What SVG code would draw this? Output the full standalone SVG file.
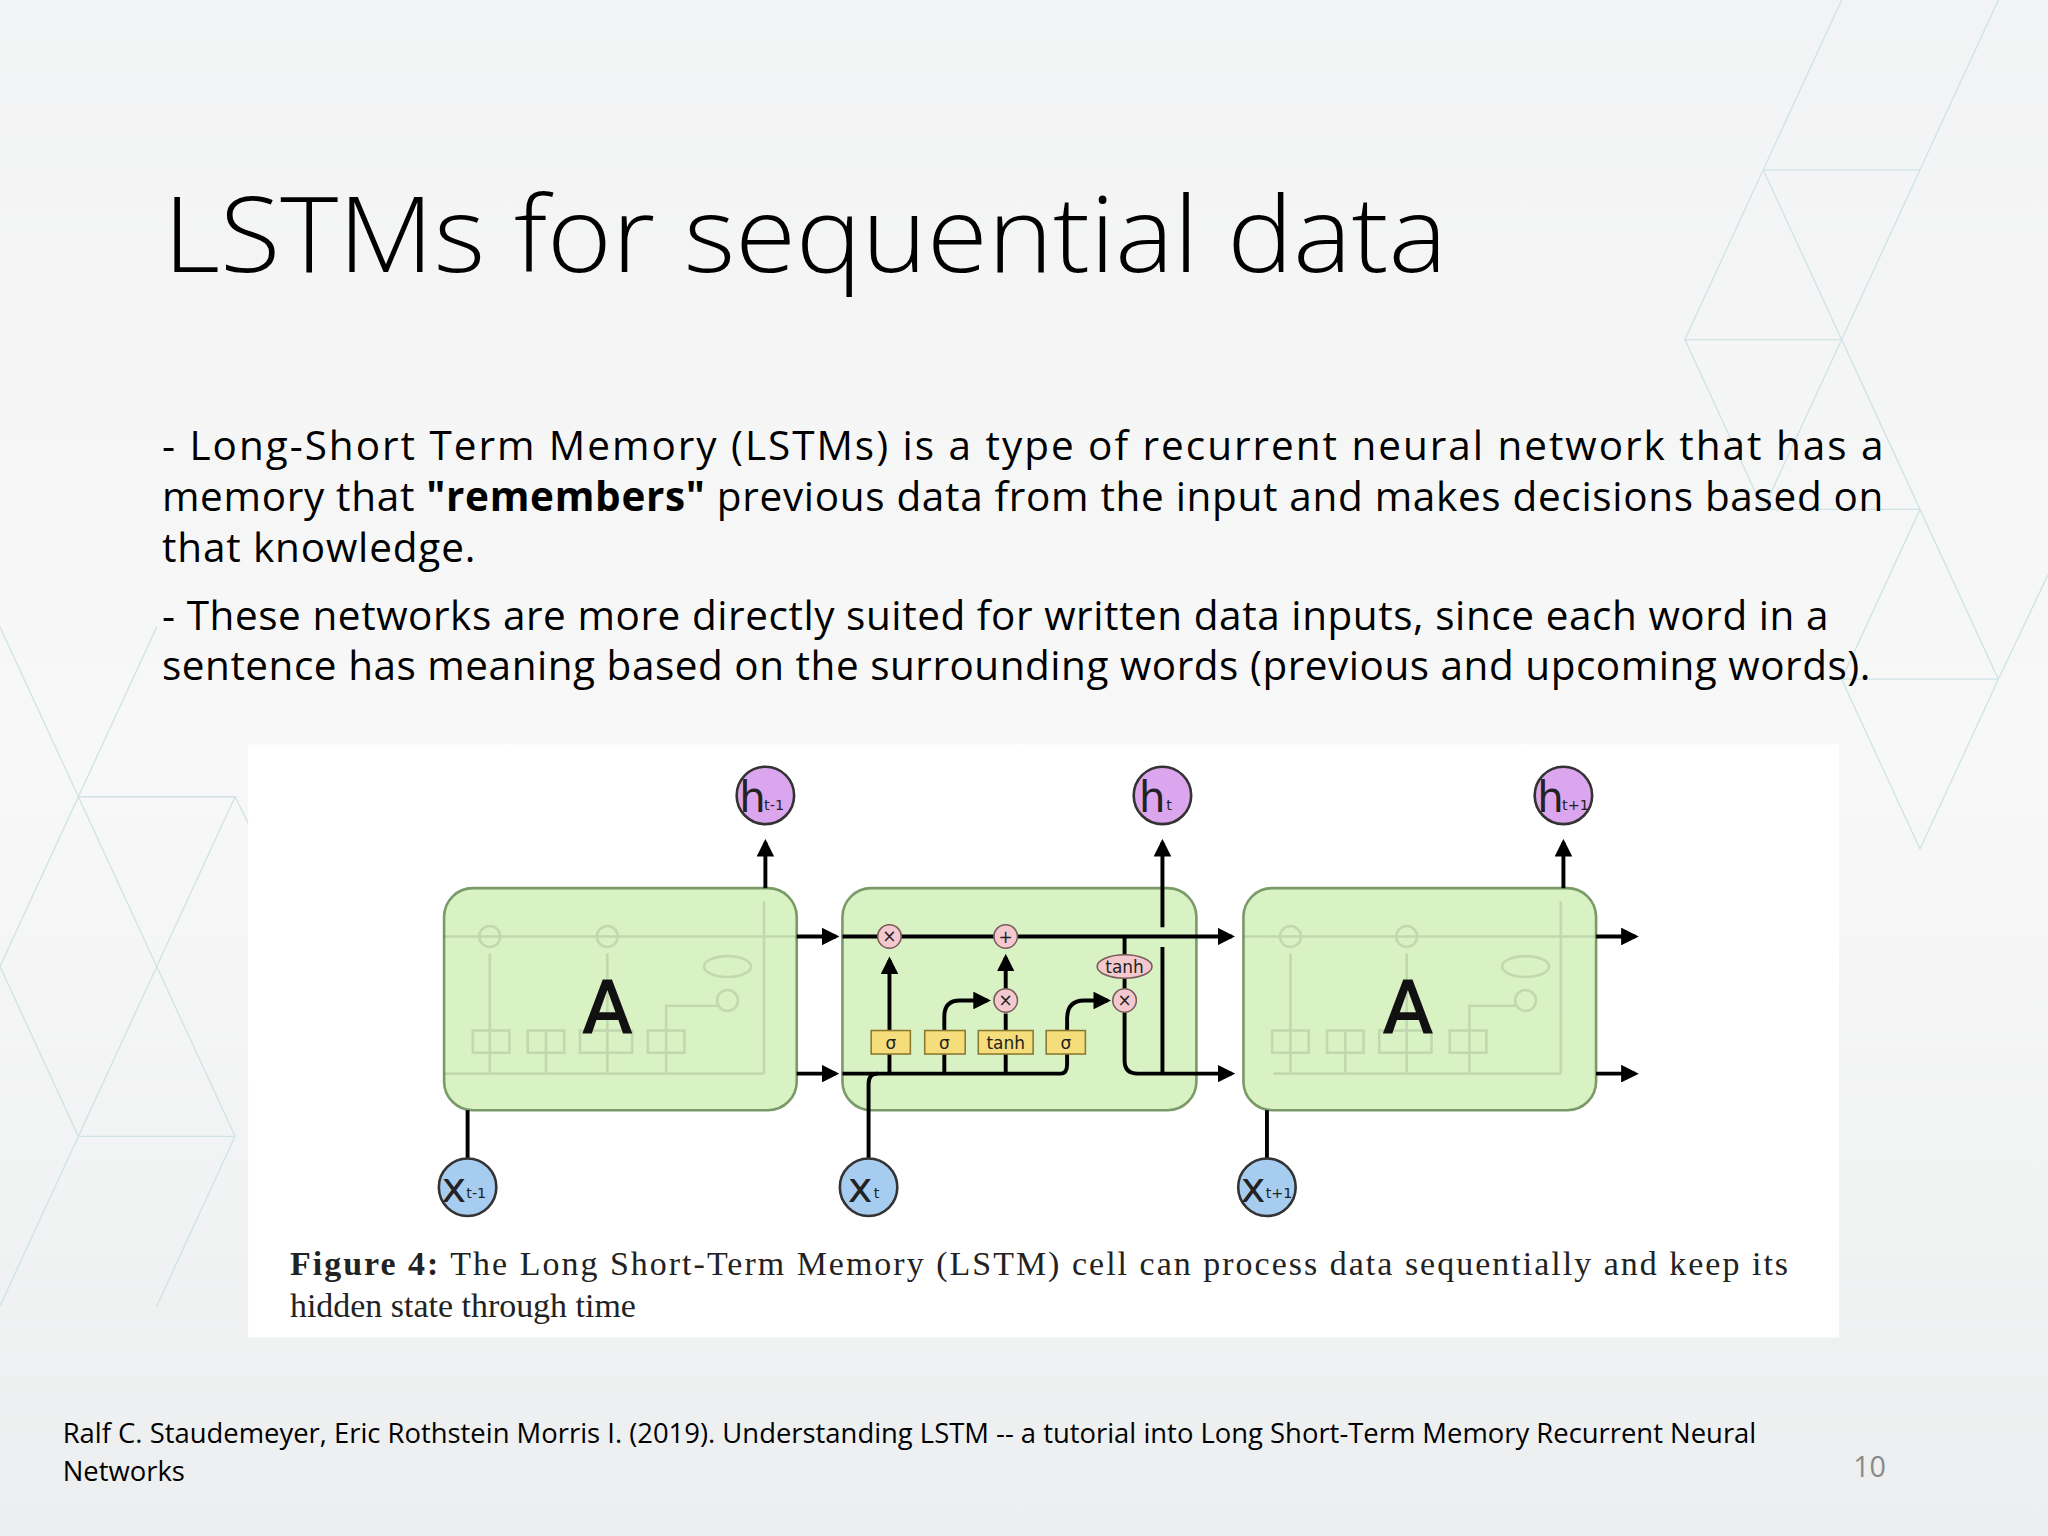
<svg xmlns="http://www.w3.org/2000/svg" width="2048" height="1536" viewBox="0 0 2048 1536">
<defs>
<linearGradient id="bg" x1="0" y1="0" x2="0" y2="1"><stop offset="0" stop-color="#f2f3f4"/><stop offset="0.5" stop-color="#f8f8f8"/><stop offset="1" stop-color="#eceeef"/></linearGradient>
<marker id="ar" viewBox="0 0 10 10" refX="8" refY="5" markerWidth="4.5" markerHeight="4.5" orient="auto"><path d="M0,0 L10,5 L0,10 z" fill="#000"/></marker>
<style>
.t{font-family:"Open Sans","Liberation Sans",sans-serif;fill:#000}
.ln{stroke:#000;stroke-width:3;fill:none}
.cell{fill:#d9f2c4;stroke:#7a9a68;stroke-width:2}
.op{fill:#f3c9cf;stroke:#7a5a5a;stroke-width:1.2}
.gate{fill:#f4dd7a;stroke:#8a7a30;stroke-width:1.2}
.ot{font-family:"DejaVu Sans",sans-serif;font-size:13px;text-anchor:middle;fill:#222}
.hc{fill:#dba6ee;stroke:#333;stroke-width:2}
.xc{fill:#a6cdef;stroke:#333;stroke-width:2}
.big{font-family:"DejaVu Sans",sans-serif;font-size:32px;fill:#222}
.sub{font-family:"DejaVu Sans",sans-serif;font-size:11px;fill:#222}
.tri{stroke:#cfe3e6;stroke-width:1;fill:none}
</style>
</defs>
<rect width="2048" height="1536" fill="url(#bg)"/>
<g transform="scale(1.30612)">
<g id="background">
<path class="tri" d="M1290,260 L1350,130 L1410,260 Z M1350,130 L1470,130 L1410,260 M1410,0 L1350,130 M1470,130 L1530,0 M1290,260 L1350,390 L1410,260 M1470,390 L1410,260 M1350,390 L1470,390 M1470,390 L1530,520 L1568,440 M1530,520 L1410,520 L1470,390 M1410,520 L1470,650 L1530,520"/>
<path class="tri" d="M0,480 L60,610 L0,740 M60,610 L120,480 M60,610 L180,610 L120,740 L60,610 M120,740 L180,870 L120,1000 M0,740 L60,870 L120,740 M60,870 L0,1000 M60,870 L180,870 M180,610 L190,630"/>
</g>
<g id="title"><text class="t" x="125" y="208" font-size="80" font-weight="300" textLength="983" lengthAdjust="spacingAndGlyphs">LSTMs for sequential data</text></g>
<g id="body" class="t" font-size="31">
<text x="124" y="352" textLength="1318" lengthAdjust="spacing">- Long-Short Term Memory (LSTMs) is a type of recurrent neural network that has a</text>
<text x="124" y="391" textLength="1318" lengthAdjust="spacing">memory that <tspan font-weight="bold">"remembers"</tspan> previous data from the input and makes decisions based on</text>
<text x="124" y="430" textLength="240" lengthAdjust="spacing">that knowledge.</text>
<text x="124" y="482" textLength="1276" lengthAdjust="spacing">- These networks are more directly suited for written data inputs, since each word in a</text>
<text x="124" y="521" textLength="1308" lengthAdjust="spacing">sentence has meaning based on the surrounding words (previous and upcoming words).</text>
</g>
<g id="figure">
<rect x="190" y="570" width="1218" height="454" fill="#fff"/>
<g id="cell-left">
<rect class="cell" x="340" y="680" width="270" height="170" rx="22"/>
<g opacity="0.1" stroke="#000" stroke-width="2" fill="none">
<path d="M340,717 L610,717 M340,822 L585,822 M375,822 L375,730 M465,822 L465,730 M585,822 L585,690 M418,822 L418,790 M510,822 L510,770 L550,770"/>
<circle cx="375" cy="717" r="8"/><circle cx="465" cy="717" r="8"/><circle cx="557" cy="766" r="8"/>
<rect x="362" y="789" width="28" height="17"/><rect x="404" y="789" width="28" height="17"/><rect x="444" y="789" width="40" height="17"/><rect x="496" y="789" width="28" height="17"/><ellipse cx="557" cy="740" rx="18" ry="8"/>
</g>
<text x="465" y="790" text-anchor="middle" font-family="DejaVu Sans,sans-serif" font-size="54" fill="#111" stroke="#111" stroke-width="1.5">A</text>
</g>
<g id="cell-mid">
<rect class="cell" x="645" y="680" width="271" height="170" rx="22"/>
</g>
<g id="cell-right">
<rect class="cell" x="952" y="680" width="270" height="170" rx="22"/>
<g opacity="0.1" stroke="#000" stroke-width="2" fill="none">
<path d="M952,717 L1222,717 M975,822 L1195,822 M988,822 L988,730 M1077,822 L1077,730 M1195,822 L1195,690 M1030,822 L1030,790 M1125,822 L1125,770 L1160,770"/>
<circle cx="988" cy="717" r="8"/><circle cx="1077" cy="717" r="8"/><circle cx="1168" cy="766" r="8"/>
<rect x="974" y="789" width="28" height="17"/><rect x="1016" y="789" width="28" height="17"/><rect x="1056" y="789" width="40" height="17"/><rect x="1110" y="789" width="28" height="17"/><ellipse cx="1168" cy="740" rx="18" ry="8"/>
</g>
<text x="1078" y="790" text-anchor="middle" font-family="DejaVu Sans,sans-serif" font-size="54" fill="#111" stroke="#111" stroke-width="1.5">A</text>
</g>
<g id="connectors">
<path class="ln" d="M610,717 L640,717" marker-end="url(#ar)"/>
<path class="ln" d="M610,822 L640,822" marker-end="url(#ar)"/>
<path class="ln" d="M645,717 L943,717" marker-end="url(#ar)"/>
<path class="ln" d="M645,822 L812,822 Q817,822 817,815 L817,780 Q817,766 830,766 L848,766" marker-end="url(#ar)"/>
<path class="ln" d="M665,887 L665,830 Q665,822 672,822"/>
<path class="ln" d="M681,822 L681,735" marker-end="url(#ar)"/>
<path class="ln" d="M723,822 L723,778 Q723,766 735,766 L756,766" marker-end="url(#ar)"/>
<path class="ln" d="M770,822 L770,776 M770,758 L770,733" marker-end="url(#ar)"/>
<path class="ln" d="M861,717 L861,758 M861,775 L861,812 Q861,822 871,822 L943,822" marker-end="url(#ar)"/>
<path class="ln" d="M890,822 L890,725 M890,710 L890,645" marker-end="url(#ar)"/>
<path class="ln" d="M1222,717 L1252,717" marker-end="url(#ar)"/>
<path class="ln" d="M1222,822 L1252,822" marker-end="url(#ar)"/>
<path class="ln" d="M586,680 L586,645" marker-end="url(#ar)"/>
<path class="ln" d="M1197,680 L1197,645" marker-end="url(#ar)"/>
<path class="ln" d="M358,887 L358,850"/>
<path class="ln" d="M970,887 L970,850"/>
</g>
<g id="ops">
<circle class="op" cx="681" cy="717" r="9"/><text class="ot" x="681" y="721">×</text>
<circle class="op" cx="770" cy="717" r="9"/><text class="ot" x="770" y="722">+</text>
<circle class="op" cx="770" cy="766" r="9"/><text class="ot" x="770" y="770">×</text>
<circle class="op" cx="861" cy="766" r="9"/><text class="ot" x="861" y="770">×</text>
<ellipse class="op" cx="861" cy="740" rx="21" ry="9"/><text class="ot" x="861" y="745">tanh</text>
<rect class="gate" x="667" y="789" width="30" height="18"/><text class="ot" x="682" y="803" font-size="15">σ</text>
<rect class="gate" x="708" y="789" width="31" height="18"/><text class="ot" x="723" y="803" font-size="15">σ</text>
<rect class="gate" x="749" y="789" width="42" height="18"/><text class="ot" x="770" y="803">tanh</text>
<rect class="gate" x="801" y="789" width="30" height="18"/><text class="ot" x="816" y="803" font-size="15">σ</text>
</g>
<g id="h-prev"><circle class="hc" cx="586" cy="609" r="22"/><text class="big" x="566" y="622">h</text><text class="sub" x="585" y="620">t-1</text></g>
<g id="h-t"><circle class="hc" cx="890" cy="609" r="22"/><text class="big" x="872" y="622">h</text><text class="sub" x="893" y="620">t</text></g>
<g id="h-next"><circle class="hc" cx="1197" cy="609" r="22"/><text class="big" x="1177" y="622">h</text><text class="sub" x="1196" y="620">t+1</text></g>
<g id="x-prev"><circle class="xc" cx="358" cy="909" r="22"/><text class="big" x="338" y="920" font-size="30">x</text><text class="sub" x="357" y="917">t-1</text></g>
<g id="x-t"><circle class="xc" cx="665" cy="909" r="22"/><text class="big" x="649" y="920" font-size="30">x</text><text class="sub" x="669" y="917">t</text></g>
<g id="x-next"><circle class="xc" cx="970" cy="909" r="22"/><text class="big" x="950" y="920" font-size="30">x</text><text class="sub" x="969" y="917">t+1</text></g>
<g id="caption" font-family="Liberation Serif,serif" font-size="26" fill="#222">
<text x="222" y="976" textLength="1147" lengthAdjust="spacing"><tspan font-weight="bold">Figure 4:</tspan> The Long Short-Term Memory (LSTM) cell can process data sequentially and keep its</text>
<text x="222" y="1008">hidden state through time</text>
</g>
</g>
<g id="footer" class="t" font-size="21">
<text x="48" y="1105">Ralf C. Staudemeyer, Eric Rothstein Morris I. (2019). Understanding LSTM -- a tutorial into Long Short-Term Memory Recurrent Neural</text>
<text x="48" y="1134">Networks</text>
<text x="1444" y="1131" text-anchor="end" fill="#8a8a8a" font-size="22">10</text>
</g>
</g>
</svg>
